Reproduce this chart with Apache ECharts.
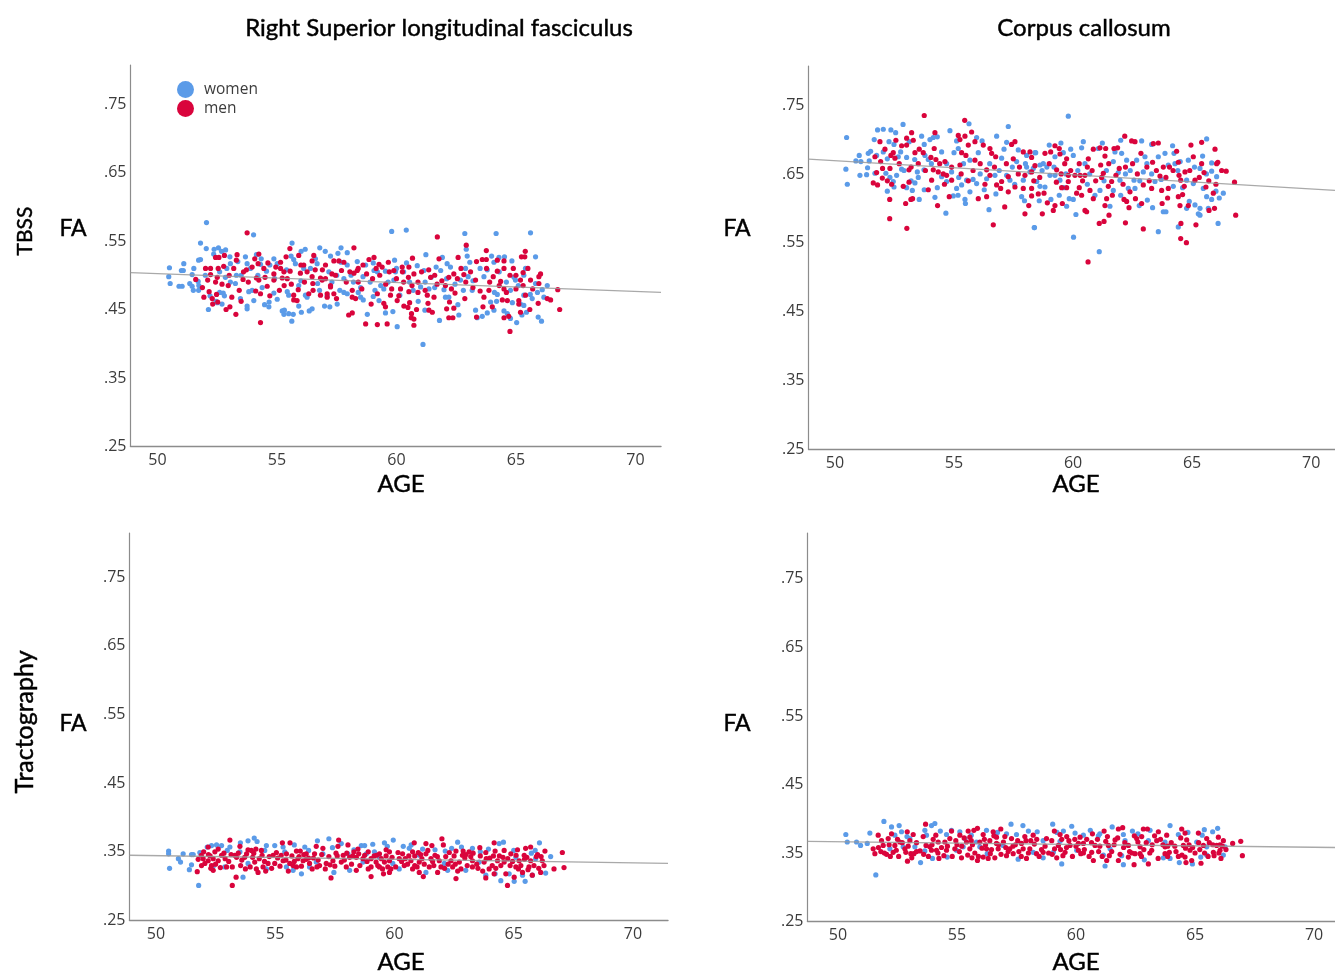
<!DOCTYPE html>
<html><head><meta charset="utf-8"><style>html,body{margin:0;padding:0;background:#fff}#c{width:1335px;height:974px}</style>
<script src="https://cdn.jsdelivr.net/npm/echarts@6/dist/echarts.min.js"></script></head><body><div id="c"></div>
<script>
const ageTicks=[50,55,60,65,70];
const faTicks=[.25,.35,.45,.55,.65,.75];
const panelTitles=['Right Superior longitudinal fasciculus','Corpus callosum'];
const rowTitles=['TBSS','Tractography'];
const fitSlfTbss=[[48.87,.504],[71.07,.475]];
const fitCcTbss=[[48.89,.6715],[71,.626]];
const fitSlfTract=[[48.89,.345],[71.47,.333]];
const fitCcTract=[[48.72,.367],[70.88,.358]];
const slfTbssWomen=[[50.5,.511],[50.47,.498],[50.53,.488],[51.1,.517],[51,.507],[51.08,.507],[50.9,.484],[51.03,.484],[51.35,.488],[51.45,.484],[51.5,.478],[51.52,.51],[51.45,.501],[51.8,.547],[52.05,.577],[52.04,.539],[54.02,.559],[52.37,.538],[52.55,.54],[52.68,.535],[52.85,.537],[52.35,.531],[51.72,.522],[51.8,.523],[51.7,.491],[51.72,.478],[51.73,.485],[52,.5],[52.13,.45],[52.2,.47],[52.45,.462],[52.6,.475],[52.75,.474],[52.8,.47],[52.7,.458],[52.5,.46],[53.03,.527],[53.36,.52],[53.05,.517],[53.68,.527],[53.75,.517],[53.89,.51],[54.14,.53],[54.34,.524],[54.31,.516],[54.87,.524],[55.01,.517],[54.56,.506],[54.7,.515],[55.63,.547],[55.59,.528],[55.7,.523],[56.01,.535],[56.18,.538],[55.77,.517],[56.12,.51],[56.79,.54],[57.02,.535],[57.24,.528],[57.68,.54],[57.94,.533],[57.55,.532],[57.68,.519],[57.94,.515],[57.17,.505],[56.61,.524],[56.68,.517],[52.84,.497],[53.05,.49],[53.26,.488],[53.47,.466],[53.75,.455],[53.75,.451],[54.03,.463],[53.96,.478],[53.82,.476],[54.38,.482],[54.87,.474],[55.01,.465],[54.48,.457],[54.66,.454],[54.67,.461],[55.22,.448],[55.31,.449],[55.29,.443],[55.49,.444],[55.68,.443],[55.62,.433],[56.02,.446],[56.35,.448],[56.47,.451],[55.91,.455],[55.43,.476],[55.49,.471],[55.91,.485],[56.26,.468],[56.19,.471],[56.78,.478],[57.21,.454],[56.99,.455],[57.52,.458],[57.63,.478],[57.8,.475],[57.94,.473],[59.8,.564],[60.41,.566],[62.86,.561],[64.17,.561],[65.61,.562],[62.92,.538],[61.23,.53],[65.82,.527],[64.83,.521],[63.98,.528],[64.52,.527],[64.29,.526],[64.08,.519],[62.96,.528],[63.07,.519],[61.92,.526],[62.12,.517],[58.36,.52],[59.03,.518],[58.71,.515],[59.92,.522],[60.42,.518],[60.87,.514],[61.66,.512],[62.26,.512],[62.89,.51],[63.8,.508],[59.06,.507],[59.54,.506],[59.96,.505],[61.15,.507],[61.85,.507],[64.92,.497],[65.33,.5],[66.31,.485],[65.82,.488],[63.66,.498],[62.68,.493],[59.34,.485],[59.47,.48],[59.89,.493],[61.01,.483],[61.36,.48],[61.99,.479],[58.5,.468],[58.61,.464],[59.03,.469],[59.27,.463],[59.54,.445],[59.85,.447],[58.78,.443],[60.14,.471],[60.91,.462],[61.19,.449],[61.11,.399],[61.8,.434],[60.03,.425],[62.61,.442],[62.57,.457],[62.05,.468],[62.19,.468],[63.31,.449],[63.38,.438],[63.59,.44],[63.8,.445],[63.94,.461],[64.19,.462],[64.22,.472],[64.08,.449],[64.5,.448],[64.64,.444],[64.77,.437],[65.03,.431],[65.25,.442],[65.44,.446],[65.19,.458],[65.33,.456],[65.68,.466],[66.17,.468],[65.93,.439],[66.07,.433],[64.77,.478],[64.98,.493],[66.1,.479],[65.33,.471],[63.17,.478],[52.9,.51],[53.5,.5],[54.2,.5],[54.9,.495],[55.4,.508],[56,.492],[56.7,.488],[57.3,.49],[57.8,.495],[58.2,.49],[58.5,.482],[58.9,.49],[59.1,.478],[59.65,.49],[60.3,.505],[60.55,.49],[60.7,.478],[61.2,.49],[61.6,.482],[62.1,.495],[62.45,.487],[63,.498],[63.2,.492],[63.5,.51],[64.3,.505],[64.6,.49],[65.1,.485],[65.6,.472],[65.4,.51],[58.1,.5],[58.4,.475],[57.1,.47],[52.6,.505],[53.3,.5],[56.4,.51],[57.5,.5],[58.6,.498],[59.2,.505],[60,.51],[61.45,.497],[62.8,.478],[64.1,.475],[64.85,.46],[65.9,.475]];
const slfTbssMen=[[53.75,.562],[55.54,.539],[53.33,.53],[52.43,.526],[52.57,.526],[52.8,.529],[53.3,.522],[52.77,.513],[52.54,.51],[53.19,.51],[53.72,.508],[54.07,.524],[54.24,.531],[53.96,.512],[54.21,.517],[54.62,.518],[55.38,.527],[55.91,.529],[55.15,.519],[55.15,.51],[55.29,.505],[54.87,.502],[54.14,.496],[54.24,.493],[53.58,.494],[52.5,.497],[52.22,.51],[52.01,.51],[52.22,.501],[52.1,.493],[52.43,.49],[51.6,.494],[51.88,.482],[52.16,.476],[51.94,.468],[52.29,.466],[52.47,.472],[52.31,.458],[52.52,.461],[53.03,.454],[52.87,.45],[53.28,.443],[53.11,.468],[53.42,.478],[52.96,.485],[54.11,.477],[54.31,.473],[54.59,.484],[54.31,.431],[55.7,.471],[55.7,.464],[55.89,.479],[56.12,.515],[56.26,.505],[56.54,.529],[56.47,.521],[57.03,.515],[57.38,.521],[57.59,.521],[57.8,.519],[56.33,.473],[56.51,.478],[57.24,.483],[57.1,.473],[57.1,.468],[56.82,.471],[57.38,.473],[57.49,.466],[57.24,.485],[56.89,.493],[57.03,.495],[55.84,.463],[58,.442],[54.87,.493],[55.43,.495],[55.22,.496],[55.98,.503],[56.47,.498],[56.82,.496],[58.22,.54],[61.71,.556],[62.92,.544],[63.76,.536],[65.39,.535],[65.23,.527],[65.37,.527],[59.06,.526],[58.85,.523],[59.27,.516],[59.66,.519],[60.67,.525],[61.78,.524],[62.58,.526],[63.35,.52],[63.59,.523],[63.76,.523],[64.22,.522],[64.5,.521],[64.89,.51],[64.5,.51],[64.22,.506],[63.77,.51],[66.03,.502],[65.96,.498],[65.3,.504],[58.36,.507],[58.22,.503],[60.24,.512],[60.52,.512],[59.89,.507],[60.73,.502],[61.43,.497],[62.19,.497],[62.82,.501],[62.4,.502],[63.31,.493],[64.36,.491],[65.19,.493],[65.61,.493],[65.96,.488],[58.15,.468],[58.29,.466],[58.15,.445],[58.71,.429],[59.2,.428],[59.61,.429],[58.94,.458],[59.47,.459],[59.54,.454],[60.03,.463],[60.31,.455],[60.55,.46],[60.48,.453],[60.63,.444],[60.62,.438],[60.73,.436],[60.73,.427],[60.84,.45],[61.32,.459],[61.36,.449],[61.5,.446],[62.1,.451],[62.19,.438],[62.36,.438],[62.22,.461],[62.4,.452],[62.86,.466],[62.45,.474],[61.57,.468],[61.29,.471],[60.52,.476],[60.17,.48],[59.2,.473],[59.75,.471],[63.66,.468],[63.62,.454],[63.35,.439],[64.01,.454],[64.43,.464],[64.64,.463],[64.5,.438],[64.7,.44],[64.75,.418],[65.12,.463],[65.19,.446],[65.58,.45],[65.93,.459],[66.45,.464],[66.83,.45],[66.75,.479],[66.31,.466],[65.12,.458],[65.4,.471],[63.87,.478],[64.5,.48],[53.6,.505],[54.5,.497],[54.95,.512],[55.55,.506],[55.6,.487],[56,.515],[56.15,.49],[56.6,.508],[56.9,.508],[57.3,.502],[57.7,.507],[57.9,.49],[58.05,.505],[58.4,.49],[58.55,.48],[58.75,.502],[59,.495],[59.3,.5],[59.55,.487],[59.7,.505],[60,.495],[60.3,.49],[60.5,.497],[60.9,.49],[61.05,.505],[61.2,.478],[61.6,.5],[61.9,.492],[62.05,.485],[62.55,.495],[62.9,.49],[63.1,.505],[63.5,.477],[64.05,.498],[64.3,.485],[64.75,.5],[65,.48],[65.5,.51],[65.7,.48],[55.3,.485],[54.7,.47],[53.8,.49],[53.5,.462],[52.7,.487],[58.4,.51],[59.4,.512],[60.1,.47],[60.9,.475],[53,.5],[54.45,.51],[55.1,.478],[56.5,.488],[57.45,.5],[58.15,.478],[58.6,.515],[59.15,.51],[59.8,.48],[60.25,.505],[60.65,.485],[61.35,.508],[61.7,.487],[62.3,.48],[62.7,.51],[63.2,.482],[63.9,.49],[64.6,.475],[65,.5],[65.3,.485]];
const ccTbssWomen=[[50.49,.703],[50.46,.657],[50.52,.635],[50.88,.669],[51.02,.677],[51.09,.668],[51.44,.669],[51.4,.68],[51.5,.683],[51.65,.7],[51.79,.714],[52.03,.715],[52.35,.714],[52.55,.71],[52.86,.722],[52.27,.697],[52.48,.693],[53.12,.697],[53.64,.705],[53.75,.693],[53.99,.7],[54.13,.703],[54.3,.704],[54.83,.713],[55.11,.698],[55.63,.723],[55.95,.703],[56.18,.698],[56.79,.705],[57.28,.719],[57.21,.696],[57.1,.686],[57.7,.685],[58.05,.677],[58.43,.681],[51.75,.677],[52.03,.682],[52.2,.672],[52.66,.675],[52.76,.682],[53.01,.674],[53.35,.671],[53.78,.677],[53.92,.671],[54.48,.682],[54.69,.665],[55,.681],[55.18,.687],[56.02,.681],[55.67,.67],[57,.673],[57.63,.668],[58.05,.66],[58.33,.658],[51.37,.659],[51.05,.648],[51.33,.649],[51.68,.651],[52.14,.651],[52.31,.645],[52.45,.639],[52.59,.648],[52.8,.657],[52.48,.631],[52.2,.625],[53.01,.63],[53.25,.626],[53.36,.637],[53.46,.653],[53.74,.656],[53.54,.613],[53.75,.627],[54.2,.616],[54.66,.593],[54.48,.646],[54.69,.639],[55.11,.629],[54.97,.618],[55.17,.619],[55.46,.613],[55.48,.607],[55.32,.634],[55.53,.641],[55.95,.636],[55.67,.624],[56.27,.627],[56.76,.621],[56.47,.598],[56.37,.643],[56.72,.648],[57.35,.641],[57.21,.648],[57.84,.617],[57.96,.611],[58.38,.572],[57.91,.641],[58.47,.639],[58.19,.653],[59.8,.734],[59,.692],[59.49,.695],[59.9,.686],[60.43,.697],[60.36,.688],[61.23,.695],[62,.699],[62.88,.698],[63.3,.693],[64.18,.691],[65.61,.701],[58.4,.681],[58.75,.665],[58.61,.663],[59.24,.675],[59.59,.681],[60.01,.677],[60.5,.665],[61.06,.687],[61.76,.682],[62.04,.68],[61.69,.668],[62.25,.67],[62.67,.67],[63.02,.675],[63.58,.675],[63.86,.68],[64.24,.68],[64,.663],[64.28,.665],[64.84,.67],[65.44,.676],[65.82,.666],[65.33,.658],[65.82,.654],[58.47,.639],[58.61,.632],[58.82,.631],[59.03,.648],[59.45,.641],[59.24,.648],[61.13,.626],[60.92,.619],[61.69,.626],[62.32,.629],[62.6,.629],[61.97,.641],[62.56,.641],[62.95,.653],[63.44,.639],[64.21,.632],[64.77,.641],[65.05,.636],[65.47,.629],[66.03,.646],[58.58,.611],[59.07,.613],[59.84,.614],[60.01,.613],[59.42,.619],[59.73,.603],[60.12,.591],[61.55,.603],[62,.619],[62.78,.604],[63.12,.612],[63.34,.601],[63.58,.566],[63.79,.595],[63.9,.595],[64.42,.573],[64.88,.61],[64.77,.6],[65.12,.605],[65.33,.6],[65.33,.59],[65.26,.592],[65.61,.617],[65.82,.613],[66.14,.615],[66.31,.622],[65.68,.6],[66.09,.578],[58.37,.572],[60.02,.558],[61.1,.537],[52.9,.655],[53.5,.645],[54.05,.665],[54.9,.653],[55.4,.665],[55.8,.642],[56.5,.665],[56.9,.655],[57.45,.66],[58,.665],[58.9,.66],[59.2,.66],[59.7,.65],[60.2,.655],[60.7,.65],[61.4,.655],[61.9,.652],[62.4,.655],[62.8,.64],[63.3,.65],[63.7,.642],[64.4,.655],[64.6,.63],[65.1,.66],[65.6,.65],[66,.625],[53.2,.64],[54.3,.63],[55.2,.645],[56.1,.65],[57.55,.635],[58.7,.655],[59.6,.63],[60.6,.635],[61.3,.64],[62.2,.65],[63.1,.665],[64.5,.668]];
const ccTbssMen=[[53.75,.735],[55.45,.728],[53.22,.71],[54.2,.71],[55.74,.711],[55.18,.706],[55.46,.705],[55.25,.7],[53.01,.702],[53.29,.699],[51.89,.697],[52.56,.699],[52.8,.691],[53.01,.692],[52.1,.686],[52.45,.681],[52.35,.677],[52.52,.673],[53.36,.681],[53.54,.686],[54.17,.687],[53.71,.681],[54.03,.674],[54.24,.671],[54.62,.668],[55.32,.681],[55.5,.677],[55.88,.697],[55.6,.692],[56.23,.692],[56.51,.687],[57.56,.697],[57.42,.693],[56.58,.68],[56.75,.675],[51.68,.675],[51.92,.668],[52,.658],[52.31,.658],[51.75,.652],[51.99,.644],[51.61,.637],[51.79,.634],[52.38,.635],[53.11,.638],[52.87,.632],[53.11,.656],[53.92,.627],[54.06,.641],[54.13,.656],[54.34,.653],[54.9,.641],[54.69,.648],[54.55,.65],[55.25,.663],[55.88,.67],[56.37,.656],[56.51,.648],[56.79,.634],[56.96,.629],[57,.639],[57.28,.624],[57.49,.672],[57.28,.646],[57.56,.631],[57.91,.629],[57.98,.648],[58.26,.629],[58.26,.618],[58.19,.682],[57.91,.682],[58.26,.674],[52.3,.613],[53.19,.613],[53.26,.614],[52.97,.607],[54.31,.604],[54.8,.617],[56.02,.614],[56.37,.617],[57.13,.602],[58.14,.604],[57.98,.592],[56.65,.576],[53.02,.571],[52.3,.585],[60.63,.522],[62.17,.705],[62.46,.698],[62.6,.697],[63.37,.694],[63.58,.695],[64.95,.692],[65.4,.696],[65.96,.686],[64.35,.683],[65.05,.675],[66.03,.665],[66.08,.667],[66.24,.655],[66.43,.654],[66.78,.638],[66.83,.59],[58.82,.68],[59.06,.682],[59.24,.691],[59.42,.687],[59.45,.679],[60.85,.686],[61.13,.688],[61.37,.687],[61.72,.687],[61.87,.688],[61.34,.676],[59.73,.672],[60.26,.665],[60.64,.672],[61.16,.663],[61.94,.658],[62.85,.68],[63.34,.667],[63.79,.66],[64.42,.667],[64.7,.653],[65.5,.652],[58.26,.653],[59.31,.656],[59.8,.648],[60.5,.648],[61.27,.651],[60.08,.648],[61.62,.639],[61.48,.632],[62.95,.634],[63.3,.629],[63.65,.647],[63.72,.626],[64,.629],[64.45,.648],[64.52,.641],[65.12,.641],[58.54,.621],[58.78,.622],[59.52,.63],[59.8,.639],[59.73,.63],[60.26,.63],[60.15,.622],[60.36,.619],[60.71,.626],[60.85,.614],[61.41,.614],[61.65,.619],[62.14,.613],[62.39,.624],[62.62,.614],[63.97,.615],[64.42,.617],[64.67,.632],[65.58,.631],[65.89,.622],[58.92,.608],[59.24,.604],[59.55,.607],[59.17,.597],[58.71,.592],[60.5,.597],[60.57,.595],[61.34,.604],[62.35,.601],[62.25,.61],[62.88,.607],[63.74,.607],[64.49,.604],[64.84,.604],[65.94,.6],[65.71,.597],[61.51,.59],[61.3,.581],[61.1,.578],[62.2,.579],[62.95,.57],[64.53,.578],[65.16,.576],[64.52,.556],[64.76,.55],[52.7,.665],[53.2,.66],[53.8,.655],[54.4,.665],[54.9,.66],[55.3,.65],[55.8,.655],[56.1,.665],[56.7,.66],[57.2,.665],[57.75,.66],[58.4,.662],[58.6,.645],[59,.665],[59.3,.638],[59.65,.665],[59.9,.655],[60.3,.648],[60.8,.655],[60.95,.64],[61.5,.665],[61.8,.648],[62.2,.66],[62.7,.65],[63.1,.66],[63.5,.655],[63.9,.645],[64.2,.655],[64.9,.655],[65.4,.665],[65.7,.64],[66,.635],[52.2,.64],[53.5,.665],[54.6,.635],[55.6,.64],[56.3,.635],[57.7,.65],[58.35,.64],[59.5,.65],[60.4,.64],[60.6,.66],[61.2,.645],[62.1,.635],[62.5,.665],[63.2,.64],[64.05,.66],[64.6,.62],[65.3,.645]];
const slfTractWomen=[[50.53,.351],[50.53,.347],[50.57,.326],[50.94,.34],[51.14,.347],[51.03,.335],[51.49,.346],[51.56,.346],[51.4,.324],[51.49,.331],[51.84,.349],[51.79,.301],[52.15,.357],[52.33,.359],[52.54,.36],[52.75,.359],[52.99,.352],[53.1,.357],[53.54,.363],[53.52,.35],[53.86,.366],[54.12,.37],[54.24,.365],[53.65,.313],[54.63,.359],[54.56,.352],[54.98,.359],[55.33,.357],[55.4,.35],[56.24,.357],[56.77,.366],[57.25,.369],[57,.347],[57.77,.362],[58.05,.347],[58.61,.359],[58.75,.359],[58.82,.347],[56.1,.318],[57.46,.32],[55.47,.328],[55.75,.323],[54.63,.325],[53.86,.333],[52.89,.328],[52.4,.329],[56.44,.328],[58.12,.323],[56.72,.335],[58.68,.335],[59.09,.361],[59.58,.363],[59.95,.367],[60.37,.358],[60.62,.355],[61.18,.354],[62.13,.351],[62.65,.364],[62.81,.357],[63.27,.355],[63.94,.354],[64.39,.362],[64.57,.364],[66.08,.363],[65.74,.348],[66.55,.343],[59.16,.35],[60.2,.325],[61.32,.32],[62.23,.323],[62.99,.323],[63.83,.316],[64.22,.318],[64.46,.308],[65.02,.307],[65.48,.307],[65.78,.316],[66.34,.319],[65.37,.316],[64.81,.318],[63.55,.335],[62.09,.333],[61.04,.345],[59.37,.342],[59.93,.333],[65.92,.34],[65.09,.342],[55.8,.36],[56.4,.352],[57.4,.356],[58.3,.353],[59.7,.358],[60.7,.36],[61.7,.353],[62.4,.355],[63.6,.35],[65,.352],[65.9,.352]];
const slfTractMen=[[53.1,.367],[52.19,.357],[52.61,.354],[52.47,.35],[51.77,.339],[51.98,.34],[52.19,.337],[52.4,.34],[52.61,.337],[51.73,.321],[51.91,.33],[52.4,.323],[52.33,.33],[52.96,.328],[53.2,.328],[53.36,.313],[53.2,.301],[53.52,.358],[53.86,.353],[54,.352],[54.19,.354],[54.42,.352],[53.38,.342],[53.72,.342],[54.14,.335],[54.21,.325],[54.28,.32],[54.91,.345],[54.7,.333],[55.3,.363],[55.62,.363],[55.89,.351],[55.47,.347],[56.3,.347],[56.65,.347],[56.72,.358],[57,.355],[57.66,.367],[57.63,.358],[58.05,.36],[58.47,.354],[57.34,.312],[57.14,.333],[56.86,.33],[56.44,.333],[55.89,.328],[55.61,.333],[55.33,.337],[54.98,.333],[54.49,.328],[58.12,.342],[58.4,.342],[58.68,.34],[57.98,.328],[58.4,.323],[57.77,.335],[57.42,.337],[56.17,.337],[60.83,.363],[61.99,.369],[61.32,.362],[61.57,.359],[62.05,.36],[64.18,.363],[63.58,.356],[65.16,.353],[65.5,.355],[65.71,.357],[66.31,.351],[67.04,.349],[67.11,.327],[66.69,.325],[59.65,.353],[59.37,.347],[59.79,.35],[60.34,.347],[60.76,.35],[61.32,.347],[62.58,.351],[62.88,.351],[63.13,.35],[63.83,.349],[64.22,.351],[64.6,.352],[64.88,.347],[65.44,.345],[59.02,.34],[59.23,.335],[59.58,.335],[59.79,.337],[60.2,.34],[60.69,.337],[61.04,.335],[61.53,.34],[61.88,.337],[62.37,.337],[62.72,.335],[63.27,.337],[63.76,.335],[64.32,.337],[64.6,.335],[65.23,.337],[65.71,.337],[66.2,.337],[66.27,.33],[59.02,.328],[59.37,.328],[59.72,.328],[60.41,.33],[60.76,.325],[61.46,.328],[62.44,.328],[62.79,.325],[63.27,.328],[63.97,.325],[64.46,.33],[65.09,.328],[65.64,.328],[59.02,.314],[59.54,.318],[59.79,.32],[61.04,.32],[61.21,.314],[61.81,.32],[62.58,.311],[63.83,.312],[64.18,.318],[64.74,.301],[64.67,.318],[65.02,.313],[65.37,.32],[65.78,.316],[66.13,.32],[51.9,.345],[52.05,.333],[52.27,.344],[52.5,.332],[52.7,.327],[52.75,.345],[52.9,.34],[53.05,.336],[53.3,.345],[53.55,.33],[53.6,.338],[53.95,.328],[54.05,.342],[54.33,.34],[54.55,.336],[54.75,.343],[54.85,.326],[55.1,.341],[55.2,.329],[55.45,.338],[55.55,.322],[55.7,.344],[55.8,.336],[56,.343],[56.1,.329],[56.3,.339],[56.55,.325],[56.6,.341],[56.8,.338],[56.95,.346],[57.1,.325],[57.25,.343],[57.5,.329],[57.6,.344],[57.9,.338],[58,.348],[58.2,.332],[58.3,.35],[58.55,.33],[58.75,.345],[58.9,.325],[59.15,.344],[59.3,.33],[59.45,.34],[59.65,.344],[59.9,.342],[60.05,.328],[60.15,.349],[60.45,.34],[60.55,.332],[60.85,.344],[60.95,.328],[61.15,.34],[61.25,.332],[61.4,.352],[61.65,.33],[61.7,.345],[61.95,.328],[62.15,.343],[62.25,.332],[62.5,.344],[62.65,.322],[62.95,.341],[63.05,.33],[63.2,.343],[63.45,.332],[63.6,.344],[63.7,.322],[64,.341],[64.1,.33],[64.4,.344],[64.75,.34],[64.95,.336],[65.1,.345],[65.3,.33],[65.55,.342],[65.85,.33],[66,.346],[66.05,.326],[52,.35],[52.3,.326],[52.85,.348],[53.15,.346],[53.45,.348],[53.75,.325],[54.1,.348],[54.45,.345],[54.6,.322],[55.05,.349],[55.25,.345],[55.75,.33],[55.95,.34],[56.2,.346],[56.4,.341],[56.75,.328],[57.3,.331],[57.55,.348],[57.85,.345],[58.25,.344],[58.5,.347],[58.85,.336],[59.25,.345],[59.5,.325],[59.85,.325],[60.3,.336],[60.6,.344],[60.85,.33],[61.1,.346],[61.6,.336],[61.8,.343],[62.1,.326],[62.3,.349],[62.55,.332],[62.85,.345],[63.3,.348],[63.5,.326],[63.85,.34],[64.15,.344],[64.25,.326],[64.55,.342],[64.85,.33],[65.2,.325],[65.45,.339],[65.6,.324],[65.95,.343],[66.15,.343],[52.2,.346],[53.8,.347],[56.05,.351],[58.9,.35],[61,.349],[63,.346]];
const ccTractWomen=[[50.33,.377],[50.39,.366],[50.78,.366],[50.95,.361],[51.23,.364],[51.34,.379],[51.59,.318],[51.93,.396],[52.25,.388],[52.57,.39],[52.67,.381],[52.39,.376],[53.02,.371],[53.65,.383],[53.93,.39],[54.07,.393],[53.72,.376],[53.47,.336],[53.97,.342],[53.65,.353],[54.56,.377],[54.77,.383],[55.12,.381],[55.33,.371],[54.59,.344],[55.26,.359],[56.27,.349],[57.27,.392],[57.77,.39],[57.08,.378],[57.5,.377],[58.37,.381],[58.62,.368],[57.57,.341],[58.62,.343],[58.2,.351],[56.24,.383],[55.82,.366],[55.96,.359],[56.94,.361],[52.18,.356],[52.74,.359],[53.23,.359],[54.98,.354],[59.02,.392],[59.82,.389],[61.52,.388],[63.11,.383],[63.95,.39],[65.39,.384],[65.74,.381],[65.95,.386],[59.47,.382],[59.96,.379],[60.31,.376],[60.94,.375],[61.99,.377],[62.37,.382],[64.3,.377],[65.07,.366],[59.4,.334],[61.22,.331],[61.99,.333],[62.87,.34],[63.67,.343],[63.95,.342],[64.34,.336],[64.89,.334],[65.24,.344],[65.49,.347],[66.19,.347],[61.92,.346],[61.15,.347],[60.03,.354],[59.05,.351],[59.33,.367],[62.06,.368],[63.04,.368],[61.43,.356],[66.26,.359],[65.49,.359],[63.74,.366],[52.9,.374],[54.3,.382],[55.6,.376],[56.7,.38],[58,.382],[60.6,.383],[61,.378],[62.6,.378],[64.7,.38],[65.3,.376],[59.2,.38]];
const ccTractMen=[[53.68,.392],[55.86,.386],[56.84,.385],[51.69,.376],[52.25,.378],[52.91,.381],[53.16,.377],[53.58,.374],[54.11,.376],[54.77,.382],[55.12,.376],[55.47,.382],[55.71,.383],[56.1,.377],[56.52,.381],[57.01,.374],[57.85,.374],[58.2,.376],[51.83,.368],[52.11,.371],[52.6,.366],[53.02,.368],[53.86,.359],[54.21,.366],[54.49,.366],[55.54,.373],[55.4,.366],[56.38,.368],[56.66,.373],[57.29,.371],[58.76,.371],[51.48,.356],[51.55,.349],[51.9,.361],[52.39,.361],[52.81,.356],[52.32,.351],[52.04,.348],[53.06,.349],[53.19,.349],[52.92,.338],[54.14,.354],[54.24,.342],[53.93,.354],[54.56,.354],[54.91,.356],[55.19,.343],[55.63,.343],[55.86,.339],[55.54,.356],[56.1,.344],[56.31,.342],[56.59,.343],[56.24,.356],[56.73,.356],[57.22,.356],[57.08,.346],[57.92,.342],[57.78,.356],[58.06,.356],[58.34,.349],[58.62,.351],[57.36,.349],[56.66,.364],[57.71,.364],[55.96,.366],[59.09,.382],[61.78,.385],[61.96,.387],[62.83,.385],[63,.385],[63.46,.381],[64.44,.385],[64.58,.379],[65.14,.379],[61.18,.382],[59.33,.377],[59.61,.374],[60.69,.378],[60.17,.373],[61.32,.374],[61.64,.369],[62.55,.371],[62.76,.374],[63.81,.376],[63.39,.368],[64.65,.369],[65.49,.371],[65.98,.373],[66.19,.368],[66.58,.364],[66.92,.367],[66.99,.346],[58.98,.368],[59.26,.361],[59.75,.361],[60.31,.364],[60.8,.361],[61.36,.361],[62.2,.361],[62.69,.359],[63.74,.359],[64.51,.361],[65.35,.361],[65.91,.361],[59.19,.343],[59.54,.351],[60.1,.354],[60.31,.35],[60.66,.351],[60.73,.339],[61.29,.339],[61.78,.339],[62.2,.344],[62.44,.333],[62.48,.349],[62.69,.349],[63.04,.334],[63.18,.354],[63.74,.349],[63.92,.351],[64.58,.344],[64.62,.336],[64.86,.339],[65.25,.335],[64.79,.354],[65.77,.351],[66.09,.342],[66.05,.354],[51.7,.358],[51.95,.35],[52.15,.362],[52.45,.354],[52.55,.345],[52.7,.365],[52.95,.36],[53.1,.343],[53.3,.365],[53.45,.353],[53.7,.361],[53.8,.345],[54,.37],[54.35,.358],[54.45,.346],[54.7,.371],[54.8,.345],[55,.362],[55.1,.352],[55.3,.372],[55.65,.362],[55.75,.35],[56.05,.357],[56.15,.37],[56.45,.355],[56.55,.375],[56.85,.348],[56.95,.366],[57.15,.352],[57.45,.362],[57.6,.352],[57.9,.368],[58,.35],[58.25,.363],[58.45,.345],[58.7,.36],[58.85,.35],[59.1,.356],[59.4,.37],[59.45,.346],[59.7,.368],[59.85,.345],[60,.36],[60.2,.349],[60.45,.37],[60.55,.345],[60.9,.37],[60.95,.352],[61.1,.345],[61.25,.367],[61.5,.352],[61.75,.372],[61.85,.348],[62.05,.365],[62.35,.35],[62.45,.375],[62.75,.345],[62.95,.365],[63.1,.35],[63.3,.375],[63.45,.342],[63.55,.37],[63.85,.345],[64,.365],[64.2,.352],[64.4,.372],[64.45,.347],[64.75,.362],[65,.35],[65.15,.365],[65.55,.345],[65.6,.365],[65.8,.346],[66.05,.362],[66.3,.355],[51.8,.352],[52.2,.345],[52.5,.37],[52.85,.351],[53.3,.352],[53.6,.348],[53.95,.362],[54.2,.35],[54.6,.36],[54.95,.368],[55.2,.36],[55.45,.347],[55.6,.368],[55.9,.345],[56.2,.362],[56.4,.349],[56.75,.362],[57.05,.358],[57.35,.36],[57.55,.368],[57.7,.345],[58.1,.368],[58.35,.37],[58.55,.355],[59,.348],[59.35,.355],[59.6,.358],[59.95,.37],[60.1,.364],[60.35,.355],[60.65,.365],[61,.36],[61.4,.346],[61.6,.362],[62,.358],[62.25,.352],[62.6,.366],[62.85,.355],[63.2,.362],[63.65,.362],[63.85,.36],[64.15,.36],[64.3,.345],[64.6,.357],[64.9,.358],[65.2,.355],[65.4,.35],[65.75,.362],[66,.35],[66.15,.36]];

const BLUE='#5b9be8',RED='#d9043c';
const panels=[
 {women:slfTbssWomen,men:slfTbssMen,fit:fitSlfTbss,left:130.5,right:661,top:65,bottom:446.5,xMin:48.87,xMax:71.07,yMax:.807},
 {women:ccTbssWomen,men:ccTbssMen,fit:fitCcTbss,left:808.5,right:1335,top:66,bottom:449,xMin:48.89,xMax:71,yMax:.807},
 {women:slfTractWomen,men:slfTractMen,fit:fitSlfTract,left:129.5,right:668,top:533,bottom:920.5,xMin:48.89,xMax:71.47,yMax:.814},
 {women:ccTractWomen,men:ccTractMen,fit:fitCcTract,left:807.5,right:1335,top:533,bottom:921.5,xMin:48.72,xMax:70.88,yMax:.817}
];
const tickFont={fontFamily:'"Open Sans",sans-serif',fontSize:16,color:'#3c3c3c'};
const grid=[],xAxis=[],yAxis=[],series=[];
panels.forEach((p,i)=>{
 grid.push({left:p.left,top:p.top,width:p.right-p.left,height:p.bottom-p.top});
 xAxis.push({type:'value',gridIndex:i,min:p.xMin,max:p.xMax,splitLine:{show:false},axisTick:{show:false},
  axisLine:{onZero:false,lineStyle:{color:'#8c8c8c',width:1.4}},
  axisLabel:Object.assign({margin:6,customValues:ageTicks,formatter:v=>String(v)},tickFont)});
 yAxis.push({type:'value',gridIndex:i,min:.25,max:p.yMax,splitLine:{show:false},axisTick:{show:false},
  axisLine:{onZero:false,lineStyle:{color:'#8c8c8c',width:1.2}},
  axisLabel:Object.assign({margin:4,customValues:faTicks,padding:[4,0,0,0],formatter:v=>v.toFixed(2).replace(/^0/,'')},tickFont)});
 series.push({name:'women',type:'scatter',xAxisIndex:i,yAxisIndex:i,data:p.women,symbolSize:5.2,itemStyle:{color:BLUE,opacity:1},silent:true,z:2});
 series.push({name:'men',type:'scatter',xAxisIndex:i,yAxisIndex:i,data:p.men,symbolSize:5.2,itemStyle:{color:RED,opacity:1},silent:true,z:3});
 series.push({name:'fit',type:'line',xAxisIndex:i,yAxisIndex:i,data:p.fit,symbol:'none',lineStyle:{color:'#9a9a9a',width:1.3,opacity:.85},silent:true,z:4});
});
const label=(text,x,y,size,rot)=>({type:'text',x,y,rotation:rot?Math.PI/2:0,silent:true,z:10,
 style:{text,fontFamily:'Lato,sans-serif',fontSize:size,fontWeight:400,fill:'#000',stroke:'#000',lineWidth:.45,align:'center',verticalAlign:'middle'}});
const graphic=[
 label(panelTitles[0],439,28,24),label(panelTitles[1],1084,28,24),
 label(rowTitles[0],25,231,21,true),label(rowTitles[1],25,722,25,true),
 label('FA',73,229,23),label('FA',737,229,23),label('FA',73,724,23),label('FA',737,724,23),
 label('AGE',401,484,24),label('AGE',1076,484,24),label('AGE',401,962,24),label('AGE',1076,962,24)
];
const chart=echarts.init(document.getElementById('c'),null,{renderer:'canvas'});
chart.setOption({animation:false,backgroundColor:'#fff',grid,xAxis,yAxis,series,graphic,
 legend:{show:true,data:[{name:'women'},{name:'men'}],orient:'vertical',left:177,top:81,itemWidth:17,itemHeight:17,itemGap:2,selectedMode:false,icon:'circle',
  textStyle:{fontFamily:'"Open Sans",sans-serif',fontSize:15.5,color:'#3c3c3c',padding:[0,0,3,5]},padding:0}
});
</script></body></html>
